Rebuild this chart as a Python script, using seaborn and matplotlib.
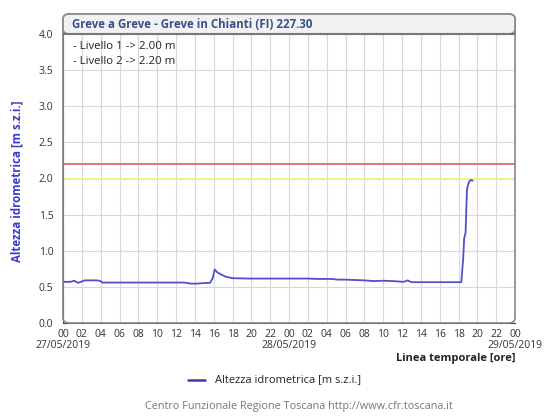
# -*- coding: utf-8 -*-
# Idrometro Greve a Greve - livello 27/05/2019 - 29/05/2019
import numpy as np
import pandas as pd
import seaborn as sns
import matplotlib.pyplot as plt
from matplotlib.patches import FancyBboxPatch
from matplotlib.ticker import MultipleLocator

# %% Data (hours since 27/05/2019 00:00, level in m)
ore = [0, 0.8, 1.2, 1.6, 2.0, 2.3, 3.5, 3.9, 4.2, 8, 12, 12.8, 13.6, 14.2, 15.2,
       15.6, 15.9, 16.1, 16.4, 16.8, 17.3, 18.0, 20, 24, 26, 27, 28.5,
       29.2, 30, 31, 32, 33, 34, 35, 36.2, 36.6, 37, 38, 40, 42.3,
       42.5, 42.6, 42.75, 42.9, 43.1, 43.3, 43.5]
livello = [0.57, 0.57, 0.585, 0.555, 0.575, 0.59, 0.59, 0.585, 0.56, 0.56, 0.56,
           0.56, 0.545, 0.545, 0.555, 0.555, 0.62, 0.74, 0.70, 0.67, 0.64, 0.62,
           0.615, 0.615, 0.615, 0.61, 0.61, 0.60, 0.60, 0.595, 0.59, 0.58,
           0.585, 0.58, 0.57, 0.59, 0.565, 0.565, 0.565, 0.565,
           0.90, 1.17, 1.25, 1.85, 1.95, 1.98, 1.97]
soglie = [2.00, 2.20]
soglie_col = ["#f2f27a", "#e8585a"]
tick_ore = list(range(0, 49, 2))
tick_lab = ["%02d" % (h % 24) for h in tick_ore]
date_lab = ["27/05/2019", "28/05/2019", "29/05/2019"]

df = pd.DataFrame({"ore": ore, "livello": livello})

# %% Plot
sns.set_style("white")
plt.rcParams["font.family"] = ["Open Sans", "DejaVu Sans"]
fig = plt.figure(figsize=(5.55, 4.2), dpi=100)
ax = fig.add_axes([63/555, 1-323/420, 452/555, 289/420])

ax.grid(True, color="#d9d9d9", lw=0.8)
for s, c in zip(soglie, soglie_col):
    ax.axhline(s, color=c, lw=1.2, zorder=2)
sns.lineplot(data=df, x="ore", y="livello", color="#5050c8", lw=1.3, ax=ax, zorder=3)

ax.set_xlim(0, 48)
ax.set_ylim(0, 4)
ax.set_xticks(tick_ore)
ax.set_xticklabels(tick_lab, fontsize=7.5, color="#333333")
ax.xaxis.set_minor_locator(MultipleLocator(1))
ax.set_yticks(np.arange(0, 4.01, 0.5))
ax.yaxis.set_minor_locator(MultipleLocator(0.1))
ax.set_yticklabels(["%.1f" % v for v in np.arange(0, 4.01, 0.5)], fontsize=7.5, color="#333333")
ax.tick_params(which="major", direction="in", length=4, width=0.8, color="#555555")
ax.tick_params(which="minor", direction="in", length=2.5, width=0.6, color="#555555")
ax.tick_params(axis="x", which="major", pad=4)
ax.tick_params(axis="y", which="major", pad=7)
ax.set_xlabel("")
ax.set_ylabel("")

for side in ["top", "right"]:
    ax.spines[side].set_visible(False)
ax.spines["left"].set_color("#444444")
ax.spines["bottom"].set_color("#444444")
ax.spines["left"].set_zorder(5)

# gray frame + title band
frame = FancyBboxPatch((63/555, 1-323/420), 452/555, 309/420,
                       boxstyle="round,pad=0,rounding_size=0.012",
                       transform=fig.transFigure, fill=False,
                       ec="#888888", lw=1.2, zorder=0)
fig.patches.append(frame)
band = FancyBboxPatch((63/555, 1-34/420), 452/555, 20/420,
                      boxstyle="round,pad=0,rounding_size=0.012",
                      transform=fig.transFigure, fc="#f2f2f4",
                      ec="#888888", lw=1.2)
fig.patches.append(band)
fig.add_artist(plt.Line2D([63/555, 515/555], [1-34/420, 1-34/420],
                          transform=fig.transFigure, color="#777777", lw=1.5))

fig.text(72/555, 1-24/420, "Greve a Greve - Greve in Chianti (FI) 227.30",
         fontsize=8.3, fontweight="bold", color="#3a4f8a", va="center")
ax.text(0.022, 0.975, "- Livello 1 -> 2.00 m\n- Livello 2 -> 2.20 m",
        transform=ax.transAxes, fontsize=8.2, va="top", ha="left",
        color="#222222", linespacing=1.45)

# date labels
for h, d in zip([0, 24, 48], date_lab):
    ax.text(h, -0.06, d, transform=ax.get_xaxis_transform(), fontsize=7.5,
            ha="center", va="top", color="#333333")
ax.text(1.0, -0.104, "Linea temporale [ore]", transform=ax.transAxes,
        fontsize=8, fontweight="bold", ha="right", va="top", color="#222222")
fig.text(17/555, 1-181/420, "Altezza idrometrica [m s.z.i.]", rotation=90,
         fontsize=8.3, fontweight="bold", color="#3a3ad0", ha="center", va="center")

# legend + footer
fig.add_artist(plt.Line2D([188/555, 205/555], [1-380/420, 1-380/420],
                          transform=fig.transFigure, color="#3c3ca8", lw=1.8))
fig.text(215/555, 1-380/420, "Altezza idrometrica [m s.z.i.]", fontsize=8,
         va="center", color="#222222")
fig.text(299/555, 1-407/420, "Centro Funzionale Regione Toscana http://www.cfr.toscana.it",
         fontsize=7.8, ha="center", va="center", color="#777777")

fig.savefig("out.png", dpi=100)
